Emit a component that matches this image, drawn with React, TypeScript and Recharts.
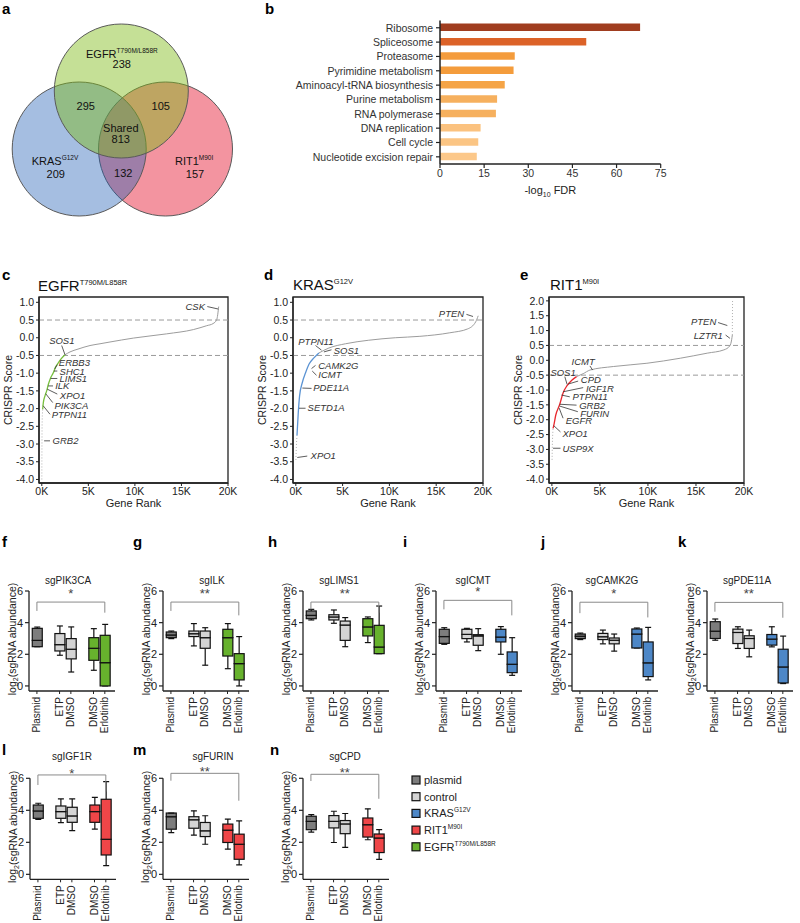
import React from "react";
import {
  BarChart,
  Bar,
  Cell,
  ComposedChart,
  Line,
  Scatter,
  ScatterChart,
  XAxis,
  YAxis,
  ReferenceLine,
  ReferenceArea,
  ReferenceDot,
  Label,
} from "recharts";

const FONT = "'Liberation Sans', Arial, Helvetica, sans-serif";
const INK = "#222";

// ---------- a: overlap of CRISPR hits ----------
const vennRegions = ["EGFR", "EGFR+KRAS", "EGFR+RIT1", "Shared", "KRAS", "KRAS+RIT1", "RIT1"];
const vennCounts = [238, 295, 105, 813, 209, 132, 157];

// ---------- b: pathway enrichment ----------
const pathways = [
  "Ribosome",
  "Spliceosome",
  "Proteasome",
  "Pyrimidine metabolism",
  "Aminoacyl-tRNA biosynthesis",
  "Purine metabolism",
  "RNA polymerase",
  "DNA replication",
  "Cell cycle",
  "Nucleotide excision repair",
];
const pathwayFdr = [68, 49.7, 25.4, 25.0, 22.0, 19.4, 19.0, 13.8, 13.0, 12.5];
const pathwayColors = [
  "#a03d1f", "#dc6228", "#f49c3c", "#f49c3c", "#f5a446",
  "#f6b05e", "#f6b05e", "#fbc27f", "#fbc584", "#fcc88a",
];
const fdrTicks = [0, 15, 30, 45, 60, 75];

// ---------- c-e: ranked CRISPR scores ----------
const rankTicks = [0, 5000, 10000, 15000, 20000];
const scoreTicks = [-4, -3.5, -3, -2.5, -2, -1.5, -1, -0.5, 0, 0.5, 1];
const scoreTicksRit = [-4, -3.5, -3, -2.5, -2, -1.5, -1, -0.5, 0, 0.5, 1, 1.5, 2];

const egfrTailRank = [5, 10, 20, 30, 55, 97];
const egfrTailScore = [-4.0, -3.47, -2.91, -2.49, -2.2, -2.02];
const egfrHitRank = [97, 162, 344, 527, 699, 935, 1236, 1472, 1773, 2117, 2493];
const egfrHitScore = [-2.02, -1.84, -1.64, -1.5, -1.32, -1.14, -0.99, -0.83, -0.71, -0.58, -0.48];
const egfrRestRank = [2493, 3030, 3889, 5178, 6252, 7326, 9829, 13416, 16273, 17713, 18400, 18787, 19000];
const egfrRestScore = [-0.48, -0.4, -0.32, -0.22, -0.17, -0.12, -0.01, 0.11, 0.23, 0.34, 0.4, 0.51, 0.88];

const krasTailRank = [10, 40, 80, 126];
const krasTailScore = [-3.45, -3.2, -2.95, -2.76];
const krasHitRank = [126, 264, 403, 690, 1042, 1404, 1936, 2469];
const krasHitScore = [-2.76, -2.11, -1.64, -1.27, -0.99, -0.75, -0.57, -0.43];
const krasRestRank = [2469, 3534, 5302, 7794, 10627, 13257, 16452, 18369, 19221, 19487];
const krasRestScore = [-0.43, -0.29, -0.17, -0.07, 0.0, 0.04, 0.14, 0.25, 0.45, 0.62];

const ritTailRank = [20, 40, 70, 120];
const ritTailScore = [-3.35, -3.0, -2.6, -2.29];
const ritHitRank = [120, 192, 400, 820, 1165, 1583, 2044, 2567];
const ritHitScore = [-2.29, -2.2, -1.85, -1.48, -1.1, -0.85, -0.68, -0.55];
const ritRestRank = [2567, 3258, 3959, 6397, 9891, 13376, 16170, 17906, 18534, 18712, 18785];
const ritRestScore = [-0.55, -0.45, -0.33, -0.21, -0.1, 0.07, 0.24, 0.35, 0.49, 0.69, 0.85];
const ritTopRank = [18785, 18790, 18800, 18810];
const ritTopScore = [0.85, 1.2, 1.6, 2.05];

// gene, curve rank, curve score, leader rank, leader score, text rank, text score, anchor
const egfrNotes: any[] = [
  ["CSK", 18959, 0.81, 17778, 0.88, 17637, 0.89, "end"],
  ["SOS1", 2493, -0.48, 2138, -0.22, 2150, -0.07, "middle"],
  ["ERBB3", 1400, -0.88, 1666, -0.76, 1720, -0.71, "start"],
  ["SHC1", 1300, -0.94, 1666, -0.94, 1800, -0.94, "start"],
  ["LIMS1", 950, -1.15, 1666, -1.15, 1800, -1.15, "start"],
  ["ILK", 680, -1.36, 1204, -1.36, 1330, -1.36, "start"],
  ["XPO1", 580, -1.45, 1666, -1.59, 1830, -1.62, "start"],
  ["PIK3CA", 420, -1.58, 1172, -1.83, 1250, -1.9, "start"],
  ["PTPN11", 150, -1.92, 882, -2.16, 960, -2.18, "start"],
  ["GRB2", 250, -2.91, 882, -2.91, 1050, -2.91, "start"],
];
const krasNotes: any[] = [
  ["PTEN", 18934, 0.6, 18231, 0.66, 18100, 0.68, "end"],
  ["PTPN11", 2746, -0.35, 2107, -0.22, 158, -0.1, "start"],
  ["SOS1", 3000, -0.4, 3811, -0.34, 3950, -0.37, "start"],
  ["CAMK2G", 1681, -0.87, 2107, -0.78, 2290, -0.78, "start"],
  ["ICMT", 1755, -0.94, 2213, -1.06, 2300, -1.05, "start"],
  ["PDE11A", 700, -1.42, 1681, -1.43, 1760, -1.41, "start"],
  ["SETD1A", 339, -1.99, 1042, -1.99, 1150, -1.97, "start"],
  ["XPO1", 158, -3.38, 1223, -3.34, 1470, -3.32, "start"],
];
const ritNotes: any[] = [
  ["PTEN", 18263, 1.17, 17300, 1.27, 17216, 1.29, "end"],
  ["LZTR1", 18534, 0.74, 18084, 0.85, 17906, 0.85, "end"],
  ["ICMT", 4241, -0.33, 3959, -0.19, 3258, -0.05, "middle"],
  ["SOS1", 1583, -0.81, 1343, -0.55, 1165, -0.4, "middle"],
  ["CPD", 1700, -0.8, 2734, -0.7, 2912, -0.66, "start"],
  ["IGF1R", 1165, -1.06, 3258, -0.92, 3435, -0.94, "start"],
  ["PTPN11", 1000, -1.17, 1866, -1.23, 2044, -1.23, "start"],
  ["GRB2", 820, -1.48, 2567, -1.51, 2734, -1.51, "start"],
  ["FURIN", 800, -1.54, 2700, -1.73, 2839, -1.79, "start"],
  ["EGFR", 746, -1.6, 1165, -1.95, 1343, -2.03, "start"],
  ["XPO1", 192, -2.2, 893, -2.41, 997, -2.46, "start"],
  ["USP9X", 120, -2.96, 893, -2.96, 997, -2.96, "start"],
];

// ---------- f-n: sgRNA abundance, [min, q1, median, q3, max] ----------
const boxPositions = [0, 2, 3, 5, 6];
const boxLabels = ["Plasmid", "ETP", "DMSO", "DMSO", "Erlotinib"];

const sgPIK3CA = [[2.48, 2.48, 2.88, 3.64, 3.72], [1.94, 2.21, 2.61, 3.31, 3.79], [0.88, 1.71, 2.32, 2.99, 3.73], [0.99, 1.62, 2.38, 3.05, 3.62], [0, 0, 1.47, 3.2, 3.89]];
const sgILK = [[2.99, 3.05, 3.22, 3.41, 3.47], [2.53, 3.12, 3.3, 3.47, 3.94], [1.31, 2.38, 3.05, 3.47, 3.68], [1.09, 1.89, 3.05, 3.58, 3.94], [0, 0.38, 1.41, 2.04, 3.12]];
const sgLIMS1 = [[4.17, 4.25, 4.46, 4.74, 4.84], [3.96, 4.17, 4.36, 4.5, 4.8], [2.48, 2.88, 3.85, 4.1, 4.32], [2.74, 3.16, 3.73, 4.25, 4.36], [2.04, 2.04, 2.46, 3.83, 5.05]];
const sgICMT = [[2.63, 2.69, 3.12, 3.58, 3.68], [2.78, 2.99, 3.26, 3.58, 3.64], [2.23, 2.57, 3.16, 3.24, 3.62], [2.0, 2.78, 3.09, 3.58, 3.75], [0.67, 0.84, 1.37, 2.15, 3.05]];
const sgCAMK2G = [[2.93, 2.99, 3.14, 3.28, 3.34], [2.66, 2.93, 3.11, 3.32, 3.53], [2.2, 2.66, 2.89, 3.03, 3.28], [2.4, 2.4, 3.28, 3.6, 3.66], [0.38, 0.59, 1.46, 2.78, 3.7]];
const sgPDE11A = [[2.89, 3.0, 3.46, 4.06, 4.23], [2.37, 2.68, 3.38, 3.59, 3.74], [1.84, 2.37, 3.0, 3.17, 3.53], [2.47, 2.58, 2.96, 3.25, 3.74], [0.15, 0.19, 1.2, 2.32, 3.15]];
const sgIGF1R = [[3.44, 3.5, 3.96, 4.33, 4.44], [3.23, 3.5, 3.92, 4.27, 4.71], [2.73, 3.25, 3.65, 4.19, 4.71], [2.83, 3.25, 3.92, 4.33, 4.81], [0.54, 1.21, 2.19, 4.69, 5.79]];
const sgFURIN = [[2.61, 2.82, 3.6, 3.83, 3.83], [2.45, 2.88, 3.41, 3.6, 3.97], [1.88, 2.36, 2.72, 3.24, 3.66], [1.57, 1.99, 2.76, 3.14, 3.45], [0.59, 0.94, 1.88, 2.51, 3.34]];
const sgCPD = [[2.64, 2.79, 3.31, 3.63, 3.73], [1.99, 2.9, 3.31, 3.67, 3.94], [1.68, 2.54, 3.15, 3.36, 3.8], [2.16, 2.33, 3.1, 3.52, 4.09], [0.94, 1.36, 2.27, 2.52, 2.79]];

const groupNames = ["plasmid", "control", "KRAS", "RIT1", "EGFR"];
const groupSup = ["", "", "G12V", "M90I", "T790M/L858R"];
const groupColors = ["#7d7d7d", "#d4d4d4", "#4d87c7", "#ef4648", "#67b22d"];

// ---------- layout ----------
const VENN_R = 67;
// drawn bottom to top: RIT1, KRAS, EGFR
const vennCircles = [
  { x: 165.5, y: 149, tint: "rgb(231,41,65)", alpha: 0.5 },
  { x: 79.2, y: 149, tint: "rgb(30,92,180)", alpha: 0.4 },
  { x: 121.3, y: 91, tint: "rgb(127,187,22)", alpha: 0.45 },
];
const vennCountSpots = [
  { x: 121.7, y: 68.3 }, { x: 85.8, y: 110 }, { x: 160.8, y: 110 }, { x: 120.8, y: 143.3 },
  { x: 55.8, y: 178 }, { x: 123.3, y: 176.7 }, { x: 195, y: 178 },
];
const vennSetSpots = [
  { x: 86, y: 58.3, name: "EGFR", sup: "T790M/L858R", anchor: "start" },
  { x: 31.7, y: 165, name: "KRAS", sup: "G12V", anchor: "start" },
  { x: 175, y: 165, name: "RIT1", sup: "M90I", anchor: "start" },
  { x: 120.8, y: 131.7, name: "Shared", sup: "", anchor: "middle" },
];

const RANK_DOMAIN = [-300, 20000];

const pairs = (ranks: number[], scores: number[]) =>
  ranks.map((rank, i) => ({ rank, score: scores[i] }));

function VennCircle(p: any) {
  return (
    <circle cx={p.cx} cy={p.cy} r={VENN_R} fill={p.payload.tint} fillOpacity={p.payload.alpha}
      stroke="#5a5a5a" strokeWidth={1} />
  );
}

function VennText(p: any) {
  const d = p.payload;
  return (
    <text x={p.cx} y={p.cy} textAnchor={d.anchor || "middle"} fontSize={11} fill="#111">
      {d.name}
      {d.sup ? <tspan fontSize={6.5} dy={-5}>{d.sup}</tspan> : null}
    </text>
  );
}

function Venn() {
  const countData = vennCounts.map((c, i) => ({ ...vennCountSpots[i], name: String(c), region: vennRegions[i] }));
  return (
    <ScatterChart width={250} height={230} margin={{ top: 0, right: 0, bottom: 0, left: 0 }}>
      <XAxis type="number" dataKey="x" domain={[0, 250]} hide />
      <YAxis type="number" dataKey="y" domain={[0, 230]} reversed hide />
      <Scatter data={vennCircles} shape={VennCircle} isAnimationActive={false} />
      <Scatter data={vennSetSpots} shape={VennText} isAnimationActive={false} />
      <Scatter data={countData} shape={VennText} isAnimationActive={false} />
    </ScatterChart>
  );
}

function FdrLabel(p: any) {
  const v = p.viewBox;
  return (
    <text x={v.x + v.width / 2} y={v.y + 30} textAnchor="middle" fontSize={11} fill={INK}>
      -log<tspan fontSize={7} dy={3}>10</tspan>
      <tspan dy={-3}> FDR</tspan>
    </text>
  );
}

function PathwayTick(p: any) {
  return (
    <text x={p.x} y={p.y} textAnchor="end" dominantBaseline="central" fontSize={10.5} fill="#333">
      {p.payload.value}
    </text>
  );
}

function Pathways() {
  const data = pathways.map((name, i) => ({ name, fdr: pathwayFdr[i] }));
  return (
    <BarChart layout="vertical" width={382} height={200} data={data}
      margin={{ top: 20.6, right: 11.3, bottom: 0, left: 0 }} barSize={7.5}>
      <XAxis type="number" domain={[0, 75]} ticks={fdrTicks} height={36} tickSize={4} tickMargin={2}
        axisLine={{ stroke: INK, strokeWidth: 1.5 }} tickLine={{ stroke: INK, strokeWidth: 1.2 }}
        tick={{ fontSize: 10.5, fill: "#333" }} interval={0}>
        <Label content={FdrLabel} />
      </XAxis>
      <YAxis type="category" dataKey="name" width={150} tickSize={4} tickMargin={3}
        axisLine={{ stroke: INK, strokeWidth: 1.5 }} tickLine={{ stroke: INK, strokeWidth: 1.2 }}
        tick={PathwayTick} interval={0} />
      <Bar dataKey="fdr" isAnimationActive={false}>
        {data.map((d, i) => <Cell key={d.name} fill={pathwayColors[i]} />)}
      </Bar>
    </BarChart>
  );
}

function GeneRankLabel(p: any) {
  const v = p.viewBox;
  return (
    <text x={v.x + v.width / 2} y={v.y + 20} textAnchor="middle" dominantBaseline="central" fontSize={11} fill={INK}>
      Gene Rank
    </text>
  );
}

function CrisprLabel(p: any) {
  const v = p.viewBox;
  const cx = v.x + 7.5;
  const cy = v.y + v.height / 2;
  return (
    <text x={cx} y={cy} transform={`rotate(-90 ${cx} ${cy})`} textAnchor="middle" dominantBaseline="central"
      fontSize={10.5} fill={INK}>
      CRISPR Score
    </text>
  );
}

function NoteText(p: any) {
  const d = p.payload;
  const dx = d.anchor === "start" ? 1 : d.anchor === "end" ? -1 : 0;
  return (
    <text x={p.cx + dx} y={p.cy} textAnchor={d.anchor} dominantBaseline="central" fontSize={9.5}
      fontStyle="italic" fill="#333">
      {d.gene}
    </text>
  );
}

function CrisprPanel(props: any) {
  const { left, width, yDomain, yTicks, tail, hit, rest, top, hitColor, notes } = props;
  const noteText = notes.map((n: any) => ({ rank: n[5], score: n[6], gene: n[0], anchor: n[7] }));
  return (
    <div style={{ position: "absolute", left, top: 290 }}>
      <ComposedChart width={width} height={219} margin={{ top: 7, right: 15, bottom: 0, left: 0 }}>
        <XAxis type="number" dataKey="rank" domain={RANK_DOMAIN} ticks={rankTicks} allowDataOverflow
          tickFormatter={(v: number) => `${v / 1000}K`} height={26} tickSize={3} tickMargin={2} interval={0}
          axisLine={{ stroke: INK, strokeWidth: 1.3 }} tickLine={{ stroke: INK }} tick={{ fontSize: 10.5, fill: INK }}>
          <Label content={GeneRankLabel} />
        </XAxis>
        <YAxis type="number" domain={yDomain} ticks={yTicks} allowDataOverflow width={39} tickSize={3}
          tickMargin={2} interval={0} tickFormatter={(v: number) => v.toFixed(1)}
          axisLine={{ stroke: INK, strokeWidth: 1.3 }} tickLine={{ stroke: INK }} tick={{ fontSize: 10.5, fill: INK }}>
          <Label content={CrisprLabel} />
        </YAxis>
        <ReferenceArea x1={RANK_DOMAIN[0]} x2={RANK_DOMAIN[1]} y1={yDomain[0]} y2={yDomain[1]}
          fill="none" stroke={INK} strokeWidth={1.3} />
        <ReferenceLine y={0.5} stroke="#9a9a9a" strokeDasharray="5 3" />
        <ReferenceLine y={-0.5} stroke="#9a9a9a" strokeDasharray="5 3" />
        <Line data={tail} dataKey="score" type="linear" stroke="#b0b0b0" strokeWidth={1}
          strokeDasharray="1 2" dot={false} isAnimationActive={false} />
        {top ? (
          <Line data={top} dataKey="score" type="linear" stroke="#b0b0b0" strokeWidth={1}
            strokeDasharray="1 2" dot={false} isAnimationActive={false} />
        ) : null}
        <Line data={rest} dataKey="score" type="monotone" stroke="#9c9c9c" strokeWidth={1}
          dot={false} isAnimationActive={false} />
        <Line data={hit} dataKey="score" type="monotone" stroke={hitColor} strokeWidth={1.3}
          dot={false} isAnimationActive={false} />
        {notes.map((n: any) => (
          <ReferenceLine key={n[0]} segment={[{ x: n[1], y: n[2] }, { x: n[3], y: n[4] }]}
            stroke="#333" strokeWidth={0.8} />
        ))}
        <Scatter data={noteText} dataKey="score" shape={NoteText} isAnimationActive={false} />
      </ComposedChart>
    </div>
  );
}

// ---------- box plots ----------
const CAP = 3;

function LowWhisker(p: any) {
  const cx = p.x + p.width / 2;
  const yb = p.y + p.height;
  return (
    <g>
      <line x1={cx} x2={cx} y1={p.y} y2={yb} stroke="#111" strokeWidth={1.2} />
      <line x1={cx - CAP} x2={cx + CAP} y1={yb} y2={yb} stroke="#111" strokeWidth={1.2} />
    </g>
  );
}

function HighWhisker(p: any) {
  const cx = p.x + p.width / 2;
  return (
    <g>
      <line x1={cx} x2={cx} y1={p.y} y2={p.y + p.height} stroke="#111" strokeWidth={1.2} />
      <line x1={cx - CAP} x2={cx + CAP} y1={p.y} y2={p.y} stroke="#111" strokeWidth={1.2} />
    </g>
  );
}

function BoxHalf(p: any) {
  return <rect x={p.x} y={p.y} width={p.width} height={Math.max(p.height, 0)} fill={p.payload.tint}
    stroke="#111" strokeWidth={1.2} />;
}

function NoShape() {
  return <g />;
}

function RotTick(p: any) {
  const i = boxPositions.indexOf(p.payload.value);
  return (
    <text x={p.x} y={p.y} transform={`rotate(-90 ${p.x} ${p.y})`} textAnchor="end" dominantBaseline="central"
      fontSize={10} fill={INK}>
      {boxLabels[i]}
    </text>
  );
}

function AbundanceLabel(p: any) {
  const v = p.viewBox;
  const cx = v.x + 11.5;
  const cy = v.y + v.height / 2 - 2;
  return (
    <text transform={`translate(${cx},${cy}) rotate(-90)`} textAnchor="middle" dominantBaseline="central"
      fontSize={10.5} fill={INK}>
      log<tspan fontSize={7} dy={3}>2</tspan>
      <tspan dy={-3}>(sgRNA abundance)</tspan>
    </text>
  );
}

const rowOne = { top: 560, marginTop: 31, height: 176, yMin: -0.32, axisH: 45, starOffset: 4, titleY: 584 };
const rowTwo = { top: 755, marginTop: 23.3, height: 168.3, yMin: -0.31, axisH: 44, starOffset: -3, titleY: 760 };

const boxPanels = [
  { letter: "f", title: "sgPIK3CA", stats: sgPIK3CA, group: 4, axisX: 29, titleX: 68, row: rowOne, stars: "*", bracket: [5.3, 4.74, 4.63] },
  { letter: "g", title: "sgILK", stats: sgILK, group: 4, axisX: 163, titleX: 212, row: rowOne, stars: "**", bracket: [5.3, 4.74, 4.46] },
  { letter: "h", title: "sgLIMS1", stats: sgLIMS1, group: 4, axisX: 303, titleX: 339, row: rowOne, stars: "**", bracket: [5.3, 4.84, 4.63] },
  { letter: "i", title: "sgICMT", stats: sgICMT, group: 2, axisX: 436, titleX: 473, row: rowOne, stars: "*", bracket: [5.41, 4.84, 4.46] },
  { letter: "j", title: "sgCAMK2G", stats: sgCAMK2G, group: 2, axisX: 572, titleX: 612, row: rowOne, stars: "*", bracket: [5.29, 4.6, 4.33] },
  { letter: "k", title: "sgPDE11A", stats: sgPDE11A, group: 2, axisX: 707, titleX: 747, row: rowOne, stars: "**", bracket: [5.28, 4.69, 4.31] },
  { letter: "l", title: "sgIGF1R", stats: sgIGF1R, group: 3, axisX: 30, titleX: 72, row: rowTwo, stars: "*", bracket: [6.21, 5.58, 5.17] },
  { letter: "m", title: "sgFURIN", stats: sgFURIN, group: 3, axisX: 163, titleX: 213, row: rowTwo, stars: "**", bracket: [6.31, 5.85, 4.6] },
  { letter: "n", title: "sgCPD", stats: sgCPD, group: 3, axisX: 303, titleX: 345, row: rowTwo, stars: "**", bracket: [6.25, 5.83, 4.72] },
];

function BoxPanel({ cfg }: any) {
  const row = cfg.row;
  const data = cfg.stats.map((s: number[], i: number) => ({
    pos: boxPositions[i],
    base: s[0],
    lw: s[1] - s[0],
    lo: s[2] - s[1],
    hi: s[3] - s[2],
    uw: s[4] - s[3],
    tint: groupColors[i === 0 ? 0 : i < 3 ? 1 : cfg.group],
  }));
  const [bt, bl, br] = cfg.bracket;
  return (
    <div style={{ position: "absolute", left: cfg.axisX - 29, top: row.top }}>
      <ComposedChart width={121} height={row.height} data={data} barSize={10}
        margin={{ top: row.marginTop, right: 6, bottom: 0, left: 0 }}>
        <XAxis type="number" dataKey="pos" domain={[-0.7, 6.9]} ticks={boxPositions} tick={RotTick}
          height={row.axisH} tickSize={3} tickMargin={3} interval={0} allowDataOverflow
          axisLine={{ stroke: INK, strokeWidth: 1.3 }} tickLine={{ stroke: INK }} />
        <YAxis type="number" domain={[row.yMin, 6]} ticks={[0, 2, 4, 6]} width={29} tickSize={4}
          tickMargin={2} interval={0} allowDataOverflow axisLine={{ stroke: INK, strokeWidth: 1.3 }}
          tickLine={{ stroke: INK, strokeWidth: 1.2 }} tick={{ fontSize: 11, fill: INK }}>
          <Label content={AbundanceLabel} />
        </YAxis>
        <ReferenceLine segment={[{ x: 0, y: bt }, { x: 6, y: bt }]} stroke="#8a8a8a" ifOverflow="visible" />
        <ReferenceLine segment={[{ x: 0, y: bt }, { x: 0, y: bl }]} stroke="#8a8a8a" ifOverflow="visible" />
        <ReferenceLine segment={[{ x: 6, y: bt }, { x: 6, y: br }]} stroke="#8a8a8a" ifOverflow="visible" />
        <ReferenceDot x={3} y={bt} r={0} ifOverflow="visible" stroke="none"
          label={{ value: cfg.stars, position: "top", offset: row.starOffset, fontSize: 13, fill: "#444" }} />
        <Bar dataKey="base" stackId="b" shape={NoShape} isAnimationActive={false} />
        <Bar dataKey="lw" stackId="b" shape={LowWhisker} isAnimationActive={false} />
        <Bar dataKey="lo" stackId="b" shape={BoxHalf} isAnimationActive={false} />
        <Bar dataKey="hi" stackId="b" shape={BoxHalf} isAnimationActive={false} />
        <Bar dataKey="uw" stackId="b" shape={HighWhisker} isAnimationActive={false} />
      </ComposedChart>
    </div>
  );
}

const panelLetters: [string, number, number][] = [
  ["a", 2, 13.5], ["b", 265, 13.5], ["c", 2, 280], ["d", 264, 280], ["e", 520, 280],
  ["f", 2, 547], ["g", 133, 547], ["h", 268, 547], ["i", 403, 547], ["j", 541, 547], ["k", 678, 547],
  ["l", 2, 755], ["m", 133, 755], ["n", 270, 755],
];

const crisprTitles = [
  { x: 38, y: 291, name: "EGFR", sup: "T790M/L858R" },
  { x: 293, y: 290, name: "KRAS", sup: "G12V" },
  { x: 550, y: 290, name: "RIT1", sup: "M90I" },
];

export default function App() {
  return (
    <div style={{ position: "absolute", left: 0, top: 0, width: 800, height: 923, background: "#fff",
      fontFamily: FONT, overflow: "hidden" }}>
      <div style={{ position: "absolute", left: 0, top: 0 }}>
        <Venn />
      </div>
      <div style={{ position: "absolute", left: 290, top: 0 }}>
        <Pathways />
      </div>

      <CrisprPanel left={0} width={243} yDomain={[-4.1, 1.15]} yTicks={scoreTicks}
        tail={pairs(egfrTailRank, egfrTailScore)} hit={pairs(egfrHitRank, egfrHitScore)}
        rest={pairs(egfrRestRank, egfrRestScore)} hitColor="#77bf3e" notes={egfrNotes} />
      <CrisprPanel left={254} width={244} yDomain={[-4.1, 1.15]} yTicks={scoreTicks}
        tail={pairs(krasTailRank, krasTailScore)} hit={pairs(krasHitRank, krasHitScore)}
        rest={pairs(krasRestRank, krasRestScore)} hitColor="#5b93d3" notes={krasNotes} />
      <CrisprPanel left={510} width={249} yDomain={[-4.13, 2.13]} yTicks={scoreTicksRit}
        tail={pairs(ritTailRank, ritTailScore)} hit={pairs(ritHitRank, ritHitScore)}
        rest={pairs(ritRestRank, ritRestScore)} top={pairs(ritTopRank, ritTopScore)}
        hitColor="#e8282e" notes={ritNotes} />

      {boxPanels.map((cfg) => <BoxPanel key={cfg.letter} cfg={cfg} />)}

      <svg width={800} height={923} style={{ position: "absolute", left: 0, top: 0, pointerEvents: "none" }}>
        {panelLetters.map(([t, x, y]) => (
          <text key={t} x={x} y={y} fontSize={15} fontWeight="bold" fill="#000">{t}</text>
        ))}
        {crisprTitles.map((t) => (
          <text key={t.name} x={t.x} y={t.y} fontSize={15} fill="#111">
            {t.name}
            <tspan fontSize={7.5} dy={-6.5}>{t.sup}</tspan>
          </text>
        ))}
        {boxPanels.map((cfg) => (
          <text key={cfg.title} x={cfg.titleX} y={cfg.row.titleY} textAnchor="middle" fontSize={10} fill={INK}>
            {cfg.title}
          </text>
        ))}
        {groupNames.map((g, i) => (
          <g key={g}>
            <rect x={412} y={776 + i * 16.7} width={8} height={8} fill={groupColors[i]} stroke="#111" strokeWidth={1.2} />
            <text x={424} y={784 + i * 16.7} fontSize={11} fill={INK}>
              {g}
              {groupSup[i] ? <tspan fontSize={6.5} dy={-5}>{groupSup[i]}</tspan> : null}
            </text>
          </g>
        ))}
      </svg>
    </div>
  );
}
